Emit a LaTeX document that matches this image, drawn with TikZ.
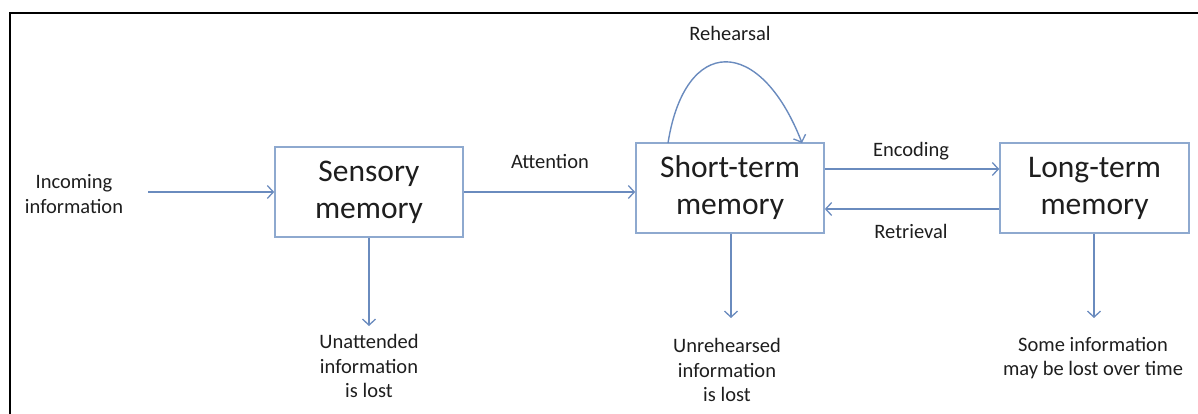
\documentclass[tikz,border=0pt]{standalone}
\usepackage{fontspec}
\setmainfont{Carlito}
\usetikzlibrary{arrows.meta}
\definecolor{boxline}{HTML}{8EA9CF}
\definecolor{arr}{HTML}{6A8BBE}
\definecolor{txt}{HTML}{1E1E1E}
\tikzset{
  mem/.style={draw=boxline, line width=1.6pt, fill=white, minimum width=188pt, minimum height=90pt, inner sep=0pt, align=center, font=\fontsize{31.5}{37}\selectfont, text=txt},
  lbl/.style={align=center, font=\fontsize{20.5}{24.5}\selectfont, text=txt, inner sep=0pt},
  con/.style={draw=arr, line width=1.4pt, -{Straight Barb[length=6pt,width=13pt,line width=1.3pt]}}
}
\begin{document}
\begin{tikzpicture}[x=1pt,y=-1pt]
\useasboundingbox (0,0) rectangle (1198,414);
\draw[line width=1.6pt] (10,430) -- (10,13) -- (1210,13);
\node[mem] (sm) at (369,192) {Sensory\\memory};
\node[mem] (stm) at (730,188) {Short-term\\memory};
\node[mem, minimum width=189pt] (ltm) at (1094.5,188) {Long-term\\memory};
\node[lbl] (inc) at (74,194) {Incoming\\information};
\node[lbl] (att) at (550,161) {Attention};
\node[lbl] (reh) at (730,33) {Rehearsal};
\node[lbl] (enc) at (911,151) {Encoding};
\node[lbl] (ret) at (911,231) {Retrieval};
\node[lbl] (ua) at (369,366) {Unattended\\information\\is lost};
\node[lbl] (ur) at (727,370) {Unrehearsed\\information\\is lost};
\node[lbl] (so) at (1093,358) {Some information\\may be lost over time};
\coordinate (incs) at (148,192);
\coordinate (uae) at (369,326);
\coordinate (ure) at (731,318);
\coordinate (soe) at (1094,318);
\draw[con] (incs) -- (sm.west |- incs);
\draw[con] (sm.east |- 0,192) -- (stm.west |- 0,192);
\draw[con] (stm.east |- 0,169) -- (ltm.west |- 0,169);
\draw[con] (ltm.west |- 0,209) -- (stm.east |- 0,209);
\draw[con] (sm.south) -- (uae);
\draw[con] (stm.south -| ure) -- (ure);
\draw[con] (ltm.south -| soe) -- (soe);
\draw[con] (668,143) .. controls (685,35) and (760,35) .. (802,143);
\end{tikzpicture}
\end{document}
